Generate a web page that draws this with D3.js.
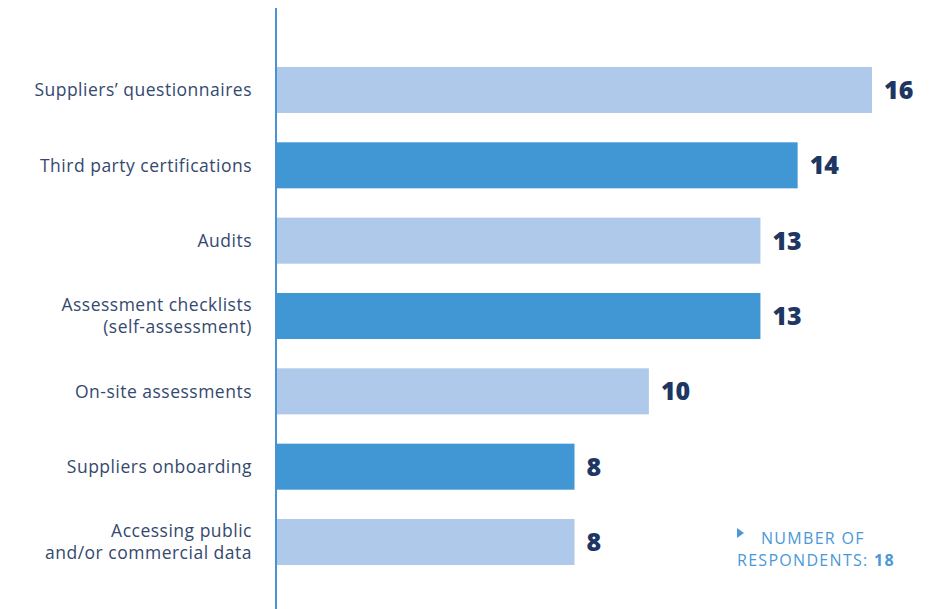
<!DOCTYPE html>
<html>
<head>
<meta charset="utf-8">
<script src="https://cdn.jsdelivr.net/npm/d3@7"></script>
<style>
  html, body { margin: 0; padding: 0; background: #ffffff; }
  svg { display: block; font-family: "Open Sans", "Noto Sans", sans-serif; }
</style>
</head>
<body>
<svg id="chart" width="950" height="609"></svg>
<script>
// Monitoring methods used with suppliers
const categories = [
  ["Suppliers\u2019 questionnaires"],
  ["Third party certifications"],
  ["Audits"],
  ["Assessment checklists", "(self-assessment)"],
  ["On-site assessments"],
  ["Suppliers onboarding"],
  ["Accessing public", "and/or commercial data"]
];
const values = [16, 14, 13, 13, 10, 8, 8];
const respondents = 18;

const svg = d3.select("#chart");
const lightBlue = "#aec9e9";
const midBlue = "#4197d4";
const navy = "#1e3762";
const labelColor = "#34496e";

const x = d3.scaleLinear().domain([0, 16]).range([277, 872]);
const y = d3.scaleBand()
  .domain(d3.range(categories.length))
  .range([51.9, 580.1])
  .paddingInner(0.389)
  .paddingOuter(0.2);

// bars
svg.append("g").selectAll("rect")
  .data(values)
  .join("rect")
  .attr("x", x(0))
  .attr("y", (d, i) => y(i))
  .attr("width", d => x(d) - x(0))
  .attr("height", y.bandwidth())
  .attr("fill", (d, i) => i % 2 === 0 ? lightBlue : midBlue);

// vertical axis line
svg.append("line")
  .attr("x1", 276).attr("x2", 276)
  .attr("y1", 8).attr("y2", 609)
  .attr("stroke", "#4a93d3")
  .attr("stroke-width", 2);

// category labels
const lineH = 22;
const catG = svg.append("g");
categories.forEach((lines, i) => {
  const cy = y(i) + y.bandwidth() / 2;
  const t = catG.append("text")
    .attr("x", 252)
    .attr("text-anchor", "end")
    .attr("fill", labelColor)
    .attr("font-size", 17.5)
    .attr("letter-spacing", 0.5)
    .attr("font-weight", 400);
  lines.forEach((ln, j) => {
    t.append("tspan")
      .attr("x", 252)
      .attr("y", cy + (j - (lines.length - 1) / 2) * lineH)
      .attr("dy", "0.36em")
      .text(ln);
  });
});

// value labels
svg.append("g").selectAll("text")
  .data(values)
  .join("text")
  .attr("x", d => x(d) + 12)
  .attr("y", (d, i) => y(i) + y.bandwidth() / 2)
  .attr("dy", "0.36em")
  .attr("fill", navy)
  .attr("font-size", 25)
  .attr("font-weight", 800)
  .text(d => d);

// respondents note
const note = svg.append("g").attr("fill", "#4a98d8");
note.append("path")
  .attr("d", "M737,528 L744,533 L737,538 Z");
const nt = note.append("text")
  .attr("font-size", 16)
  .attr("letter-spacing", 1.3)
  .attr("font-weight", 400);
nt.append("tspan").attr("x", 761).attr("y", 544).text("NUMBER OF");
nt.append("tspan").attr("x", 737).attr("y", 566).text("RESPONDENTS: ");
nt.append("tspan").attr("font-weight", 700).text(respondents);
</script>
</body>
</html>
